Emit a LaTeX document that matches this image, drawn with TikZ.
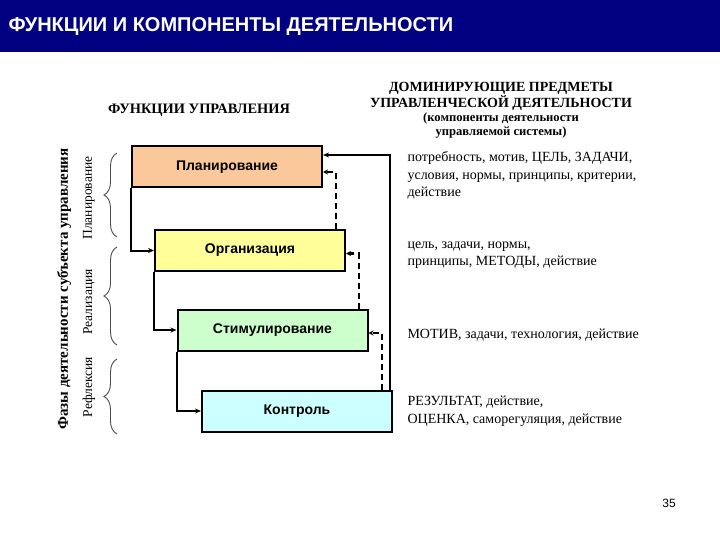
\documentclass[tikz,border=0pt]{standalone}
\usepackage{fontspec}
\setmainfont{Liberation Serif}
\setsansfont{Liberation Sans}
\usetikzlibrary{arrows.meta,decorations.pathreplacing}
\definecolor{titlenavy}{RGB}{0,0,128}
\definecolor{planfill}{RGB}{250,200,155}
\definecolor{orgfill}{RGB}{255,255,153}
\definecolor{stimfill}{RGB}{204,255,204}
\definecolor{kontrfill}{RGB}{204,255,255}
\tikzset{
  func/.style={draw,rectangle,line width=2pt,minimum width=190pt,minimum height=41pt,
    font=\sffamily\bfseries\fontsize{14}{16}\selectfont},
  flow/.style={line width=2pt,-{Stealth[length=6pt,width=5pt]}},
  back/.style={line width=1.1pt,dash pattern=on 6pt off 4pt,-{Stealth[length=5pt,width=5pt,open]}},
  phase/.style={decorate,decoration={brace,amplitude=13pt},draw=black!70,line width=0.9pt},
  subj/.style={rotate=90,font=\fontsize{13.5}{15}\selectfont},
  comp/.style={anchor=west,align=left,font=\fontsize{14}{17.5}\selectfont}
}
\begin{document}
\begin{tikzpicture}[x=1pt,y=-1pt]
\useasboundingbox (0,0) rectangle (720,540);
\fill[titlenavy] (0,0) rectangle (720,52);
\node[name=title,anchor=west,text=white,font=\sffamily\bfseries\fontsize{20}{24}\selectfont] at (5,27){ФУНКЦИИ И КОМПОНЕНТЫ ДЕЯТЕЛЬНОСТИ};

% headings
\node[name=funchead,font=\bfseries\fontsize{14.4}{16}\selectfont] at (199,110){ФУНКЦИИ УПРАВЛЕНИЯ};
\node[name=comphead,align=center,font=\bfseries\fontsize{14}{14}\selectfont] at (501,110){ДОМИНИРУЮЩИЕ ПРЕДМЕТЫ\\УПРАВЛЕНЧЕСКОЙ ДЕЯТЕЛЬНОСТИ\\{\fontsize{12.6}{15}\selectfont(компоненты деятельности}\\{\fontsize{12.6}{14.5}\selectfont управляемой системы)}};

% functions
\node[name=plan,func,fill=planfill] at (227,167){Планирование};
\node[name=org,func,fill=orgfill] at (250,250.5){Организация};
\node[name=stim,func,fill=stimfill] at (272.5,330){Стимулирование};
\node[name=kontr,func,fill=kontrfill] at (297,411){Контроль};

\draw[flow] (plan.south west) |- (org.west);
\draw[flow] (org.south west) |- (stim.west);
\draw[flow] (stim.south west) |- (kontr.west);

\draw[flow] ([xshift=-3pt]kontr.north east) |- ([yshift=12pt]plan.east);
\draw[back] ([xshift=-10pt]org.north east) |- ([yshift=-5pt]plan.east);
\draw[back,line width=2.4pt] ([xshift=-9.5pt]stim.north east) |- ([yshift=-3pt]org.east);
\draw[back] ([xshift=-11pt]kontr.north east) |- ([yshift=-3pt]stim.east);

% phases
\node[name=phases,rotate=90,font=\bfseries\fontsize{15}{17}\selectfont] at (64,289){Фазы деятельности субъекта управления};
\node[name=ph1,subj] at (89,198){Планирование};
\node[name=ph2,subj] at (89,302){Реализация};
\node[name=ph3,subj] at (89,387){Рефлексия};
\draw[phase] (117,237) -- (117,153);
\draw[phase] (117,345) -- (117,247);
\draw[phase] (117,434) -- (117,359);

% components
\node[name=comp1,comp] at (404,175.5){потребность, мотив, ЦЕЛЬ, ЗАДАЧИ,\\условия, нормы, принципы, критерии,\\действие};
\node[name=comp2,comp] at (404,255){цель, задачи, нормы,\\принципы, МЕТОДЫ, действие};
\node[name=comp3,comp] at (404,335){МОТИВ, задачи, технология, действие};
\node[name=comp4,comp] at (404,411){РЕЗУЛЬТАТ, действие,\\ОЦЕНКА, саморегуляция, действие};

\node[name=pagenum,font=\sffamily\fontsize{12}{14}\selectfont] at (669,503){35};
\end{tikzpicture}
\end{document}
